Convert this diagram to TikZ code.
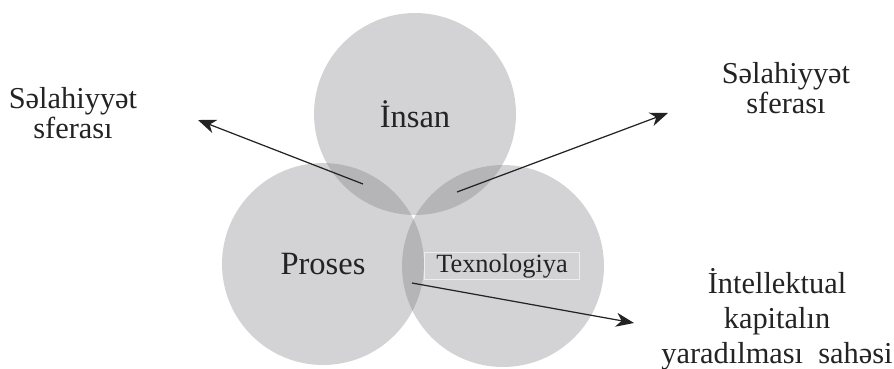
\documentclass[tikz,border=0pt]{standalone}
\usepackage{fontspec}
\setmainfont{Liberation Serif}
\usetikzlibrary{arrows.meta,positioning}
\definecolor{discgray}{RGB}{118,118,124}
\definecolor{ink}{RGB}{35,35,35}
\tikzset{
    sphere/.style = {circle,
                    fill=discgray,
                    fill opacity=0.32,
                    text opacity=1,
                    text=ink,
                    draw=none,
                    inner sep=0pt,
                    minimum size=4.04cm,
                    font=\fontsize{18.5}{20}\selectfont},
    tag/.style =    {draw=black!7,
                    text=ink,
                    inner sep=1pt,
                    minimum width=3.1cm,
                    minimum height=0.44cm,
                    font=\fontsize{15}{16}\selectfont},
    note/.style =   {align=center,
                    text=ink,
                    inner sep=0pt,
                    font=\fontsize{17.3}{17.5}\selectfont},
    flow/.style =   {draw=ink,
                    line width=0.7pt,
                    -{Stealth[length=3.6mm,width=2.8mm,inset=1.1mm]}},
    x=0.02cm, y=-0.02cm}

\begin{document}
\begin{tikzpicture}
    \useasboundingbox (0,0) rectangle (894,369);
    % the three circles
    \node[sphere]   (insan)  at (415,114)   {İnsan};
    \node[sphere]   (proses) at (323,264)   {Proses};
    \node[sphere]   (texno)  at (503,266)   {};
    \node[tag]      (texlbl) at (502,266)   {Texnologiya};
    % texts outside
    \node[note]     (solL)   at (73,113)    {Səlahiyyət\\sferası};
    \node[note]     (solR)   at (786,88)    {Səlahiyyət\\sferası};
    \node[note,font=\fontsize{17.3}{20}\selectfont]
                    (kapital) at (777,319)  {İntellektual\\kapitalın\\yaradılması\ \ sahəsi};
    % arrow ends
    \coordinate (fromL) at (363,184);
    \coordinate (toL)   at (198,120);
    \coordinate (fromR) at (457,192);
    \coordinate (toR)   at (668,113);
    \coordinate (fromB) at (412,283);
    \coordinate (toB)   at (634,323);
    \path   (fromL) edge [flow] (toL)
            (fromR) edge [flow] (toR)
            (fromB) edge [flow] (toB);
\end{tikzpicture}
\end{document}
